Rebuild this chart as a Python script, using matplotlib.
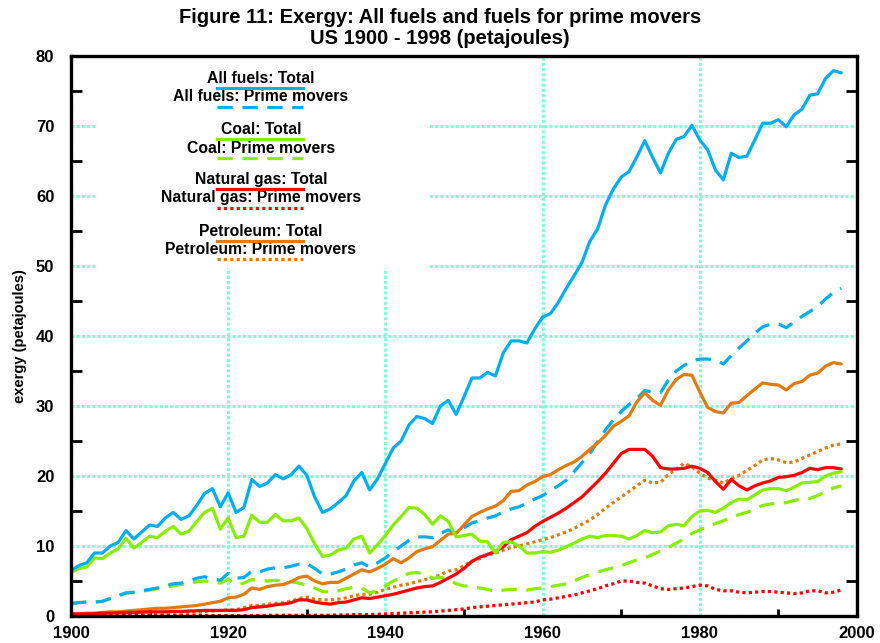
import matplotlib
matplotlib.use("Agg")
import matplotlib.pyplot as plt
import numpy as np
from matplotlib.lines import Line2D
from matplotlib.patches import Rectangle
from matplotlib.ticker import MultipleLocator

plt.rcParams['font.family'] = ['Liberation Sans', 'DejaVu Sans']

years = list(range(1900, 1999))

all_total = [6.5, 7.2, 7.6, 9.0, 9.0, 10.0, 10.5, 12.2, 11.0, 12.0,
             13.0, 12.8, 14.0, 14.8, 13.8, 14.3, 15.8, 17.5, 18.2, 15.6,
             17.6, 14.8, 15.5, 19.5, 18.5, 19.0, 20.2, 19.6, 20.2, 21.4,
             20.1, 17.0, 14.8, 15.3, 16.2, 17.2, 19.3, 20.5, 18.0, 19.6,
             21.8, 24.0, 25.0, 27.3, 28.5, 28.2, 27.5, 30.0, 30.8, 28.8,
             31.3, 34.0, 34.0, 34.8, 34.3, 37.6, 39.3, 39.3, 39.0, 41.0,
             42.7, 43.2, 44.8, 46.8, 48.6, 50.5, 53.5, 55.3, 58.7, 61.0,
             62.7, 63.5, 65.6, 67.9, 65.5, 63.3, 66.1, 68.1, 68.5, 70.1,
             68.0, 66.6, 63.7, 62.3, 66.1, 65.5, 65.7, 68.0, 70.4, 70.4,
             70.9, 69.9, 71.6, 72.4, 74.4, 74.6, 76.8, 77.9, 77.6]

all_pm = [1.8, 1.9, 2.0, 2.0, 2.1, 2.5, 2.9, 3.3, 3.4, 3.6,
          3.8, 4.0, 4.3, 4.6, 4.7, 5.0, 5.4, 5.6, 5.3, 5.1,
          6.1, 5.4, 5.5, 6.4, 6.3, 6.7, 6.9, 6.9, 7.1, 7.4,
          7.5, 6.8, 6.0, 6.0, 6.3, 6.7, 7.3, 7.6, 7.0, 7.6,
          8.3, 9.2, 10.0, 10.8, 11.3, 11.3, 11.2, 11.8, 12.3, 11.8,
          12.6, 13.3, 13.6, 14.0, 14.3, 14.9, 15.3, 15.6, 16.1, 16.7,
          17.2, 17.9, 18.6, 19.4, 20.6, 21.9, 23.2, 24.9, 26.6, 28.0,
          29.2, 30.2, 31.1, 32.2, 32.0, 31.9, 33.7, 35.0, 35.8, 36.5,
          36.7, 36.7, 36.6, 36.0, 37.2, 38.3, 39.3, 40.4, 41.3, 41.7,
          41.7, 41.2, 42.0, 42.8, 43.5, 44.2, 45.3, 46.2, 46.8]

coal_total = [6.2, 6.8, 7.0, 8.3, 8.2, 9.0, 9.6, 11.1, 9.7, 10.5,
              11.4, 11.2, 12.1, 12.8, 11.7, 12.1, 13.5, 14.8, 15.4, 12.4,
              14.0, 11.2, 11.4, 14.4, 13.4, 13.4, 14.5, 13.6, 13.6, 14.0,
              12.5, 10.3, 8.5, 8.7, 9.4, 9.7, 11.0, 11.4, 9.0, 10.2,
              11.5, 13.0, 14.2, 15.5, 15.4, 14.5, 13.1, 14.3, 13.5, 11.3,
              11.5, 11.7, 10.7, 10.6, 9.0, 10.5, 10.6, 10.0, 9.0, 9.0,
              9.2, 9.1, 9.4, 9.9, 10.4, 11.0, 11.4, 11.2, 11.5, 11.5,
              11.4, 11.0, 11.5, 12.2, 11.9, 12.0, 12.9, 13.1, 12.9, 14.2,
              15.0, 15.1, 14.8, 15.4, 16.2, 16.7, 16.6, 17.3, 18.0, 18.2,
              18.2, 17.9, 18.4, 19.0, 19.1, 19.2, 20.0, 20.4, 20.6]

coal_pm = [1.8, 1.9, 2.0, 2.0, 2.1, 2.5, 2.9, 3.3, 3.4, 3.5,
           3.7, 3.9, 4.1, 4.3, 4.5, 4.6, 4.9, 5.0, 4.9, 4.7,
           5.2, 4.5, 4.7, 5.2, 5.1, 5.0, 5.1, 5.0, 4.9, 4.7,
           4.4, 4.0, 3.5, 3.4, 3.6, 3.9, 4.1, 4.0, 3.3, 3.6,
           4.3, 5.0, 5.5, 6.1, 6.2, 6.0, 5.4, 5.5, 5.3, 4.6,
           4.3, 4.2, 4.0, 3.8, 3.5, 3.7, 3.8, 3.8, 3.7, 3.9,
           4.0, 4.2, 4.4, 4.6, 5.0, 5.5, 5.9, 6.3, 6.6, 6.9,
           7.2, 7.6, 8.0, 8.3, 8.8, 9.3, 9.8, 10.4, 11.0, 11.8,
           12.3, 12.8, 13.2, 13.6, 14.1, 14.5, 14.8, 15.3, 15.8, 16.0,
           16.1, 16.2, 16.5, 16.7, 16.8, 17.2, 17.8, 18.3, 18.6]

ng_total = [0.3, 0.3, 0.3, 0.35, 0.4, 0.4, 0.45, 0.5, 0.5, 0.55,
            0.6, 0.6, 0.6, 0.65, 0.65, 0.7, 0.75, 0.8, 0.8, 0.8,
            0.8, 0.8, 0.9, 1.2, 1.3, 1.4, 1.6, 1.7, 1.9, 2.3,
            2.3, 2.0, 1.8, 1.7, 1.9, 2.0, 2.3, 2.6, 2.5, 2.7,
            2.9, 3.1, 3.4, 3.7, 4.0, 4.2, 4.3, 4.8, 5.4, 6.0,
            6.8, 7.8, 8.4, 8.8, 9.2, 9.9, 10.9, 11.4, 11.9, 12.8,
            13.5, 14.1, 14.7, 15.4, 16.2, 17.0, 18.1, 19.2, 20.4, 21.8,
            23.2, 23.8, 23.8, 23.8, 22.8, 21.2, 21.0, 21.0, 21.1, 21.4,
            21.1, 20.5, 19.2, 18.1, 19.5, 18.6, 18.0, 18.6, 19.0, 19.3,
            19.8, 19.9, 20.1, 20.5, 21.1, 20.9, 21.2, 21.2, 21.0]

ng_pm = [0.05, 0.05, 0.05, 0.05, 0.05, 0.05, 0.05, 0.05, 0.05, 0.05,
         0.05, 0.05, 0.05, 0.05, 0.05, 0.05, 0.05, 0.05, 0.05, 0.05,
         0.05, 0.05, 0.05, 0.05, 0.05, 0.1, 0.1, 0.1, 0.1, 0.1,
         0.1, 0.1, 0.1, 0.1, 0.15, 0.15, 0.2, 0.2, 0.2, 0.25,
         0.3, 0.35, 0.4, 0.45, 0.5, 0.55, 0.6, 0.7, 0.8, 0.9,
         1.0, 1.2, 1.3, 1.4, 1.5, 1.6, 1.7, 1.8, 1.9, 2.0,
         2.3, 2.4, 2.6, 2.8, 3.0, 3.3, 3.6, 3.9, 4.3, 4.6,
         5.0, 5.0, 4.8, 4.7, 4.3, 3.9, 3.8, 3.9, 4.0, 4.2,
         4.4, 4.3, 3.8, 3.6, 3.6, 3.4, 3.3, 3.4, 3.5, 3.5,
         3.4, 3.3, 3.2, 3.3, 3.6, 3.6, 3.3, 3.4, 3.7]

pet_total = [0.3, 0.3, 0.4, 0.4, 0.5, 0.6, 0.6, 0.7, 0.8, 0.9,
             1.0, 1.1, 1.1, 1.2, 1.3, 1.4, 1.5, 1.7, 1.9, 2.1,
             2.6, 2.7, 3.1, 4.0, 3.8, 4.2, 4.4, 4.5, 4.9, 5.5,
             5.7, 5.0, 4.6, 4.8, 4.8, 5.4, 6.0, 6.6, 6.3, 6.8,
             7.4, 8.2, 7.6, 8.3, 9.2, 9.6, 9.9, 10.8, 11.7, 11.8,
             13.0, 14.2, 14.8, 15.3, 15.7, 16.5, 17.8, 17.9, 18.7, 19.2,
             19.9, 20.2, 20.9, 21.5, 22.0, 22.8, 23.8, 24.7, 25.8, 27.1,
             27.8, 28.6, 30.6, 31.9, 30.8, 30.1, 32.3, 33.8, 34.5, 34.4,
             32.0, 29.8, 29.2, 29.0, 30.4, 30.5, 31.5, 32.4, 33.3, 33.1,
             33.0, 32.3, 33.2, 33.5, 34.4, 34.7, 35.7, 36.2, 36.0]

pet_pm = [0.05, 0.05, 0.1, 0.1, 0.1, 0.15, 0.15, 0.2, 0.2, 0.25,
          0.3, 0.3, 0.35, 0.4, 0.4, 0.45, 0.5, 0.6, 0.7, 0.8,
          0.9, 0.9, 1.2, 1.5, 1.5, 1.7, 1.8, 1.9, 2.1, 2.5,
          2.7, 2.4, 2.3, 2.3, 2.4, 2.6, 2.9, 3.1, 3.1, 3.4,
          3.8, 4.1, 4.4, 4.6, 4.9, 5.2, 5.4, 5.9, 6.4, 6.6,
          7.2, 7.8, 8.2, 8.7, 9.0, 9.4, 9.8, 10.0, 10.3, 10.6,
          10.9, 11.2, 11.6, 12.0, 12.5, 13.1, 13.7, 14.5, 15.4, 16.2,
          17.0, 17.8, 18.6, 19.4, 19.0, 19.1, 20.2, 21.0, 21.8, 21.3,
          20.4, 19.7, 19.4, 19.0, 19.6, 20.1, 20.8, 21.5, 22.3, 22.5,
          22.3, 21.9, 22.0, 22.5, 23.0, 23.5, 24.0, 24.4, 24.6]

BLUE = '#00AEEF'
GREEN = '#88EE00'
RED = '#FF0000'
ORANGE = '#E07B10'
GRID = '#80FFD6'

labels = ["All fuels: Total", "All fuels: Prime movers",
          "Coal: Total", "Coal: Prime movers",
          "Natural gas: Total", "Natural gas: Prime movers",
          "Petroleum: Total", "Petroleum: Prime movers"]

LW = 2.3
DASH = (4.8, 3.0)
DOT = (1.0, 1.0)

series = [
    (all_total, BLUE, None, LW),
    (all_pm, BLUE, DASH, LW),
    (coal_total, GREEN, None, LW),
    (coal_pm, GREEN, DASH, LW),
    (ng_total, RED, None, LW),
    (ng_pm, RED, DOT, LW),
    (pet_total, ORANGE, None, LW),
    (pet_pm, ORANGE, DOT, LW),
]

fig = plt.figure(figsize=(8.8, 6.43), dpi=100)
ax = fig.add_axes([71/880, 1-616/643, 786/880, 560/643])

draw_order = [7, 5, 3, 1, 6, 4, 2, 0]
for i in draw_order:
    vals, col, dash, lw = series[i]
    ln, = ax.plot(years, vals, color=col, lw=lw, solid_capstyle='round', zorder=3)
    if dash is not None:
        ln.set_dashes(dash)

ax.set_xlim(1900, 2000)
ax.set_ylim(0, 80)
ax.xaxis.set_major_locator(MultipleLocator(20))
ax.xaxis.set_minor_locator(MultipleLocator(10))
ax.yaxis.set_major_locator(MultipleLocator(10))
ax.yaxis.set_minor_locator(MultipleLocator(5))
ax.grid(True, which='major', color=GRID, lw=2.2, linestyle=(0, (1, 0.7)), zorder=1)
ax.set_axisbelow(True)

ax.tick_params(which='major', length=0, labelsize=12)
ax.tick_params(axis='y', which='major', pad=12)
ax.tick_params(axis='x', which='major', pad=7)
ax.tick_params(which='minor', direction='in', length=8, width=2, right=True, left=True, bottom=True)
ax.tick_params(axis='x', which='minor', length=5)
for lab in ax.get_xticklabels() + ax.get_yticklabels():
    lab.set_fontweight('bold')

for sp in ax.spines.values():
    sp.set_linewidth(2.4)
    sp.set_zorder(5)

ax.set_ylabel("exergy (petajoules)", fontsize=10.5, fontweight='bold')
ax.yaxis.set_label_coords(-0.056, 0.5)

fig.text(0.5, 0.987, "Figure 11: Exergy: All fuels and fuels for prime movers\nUS 1900 - 1998 (petajoules)",
         ha='center', va='top', fontsize=14.5, fontweight='bold', linespacing=1.12)

# legend block
ax.add_patch(Rectangle((0.03, 0.622), 0.424, 0.378, transform=ax.transAxes,
                       facecolor='white', edgecolor='none', zorder=2))
text_y = [0.9607, 0.9273, 0.8679, 0.8352, 0.7786, 0.7470, 0.6863, 0.6536]
line_y = [0.9429, 0.9095, 0.8513, 0.8184, 0.7620, 0.7280, 0.6696, 0.6370]
for i, lab in enumerate(labels):
    _, col, dash, lw = series[i]
    ax.text(0.2417, text_y[i], lab, transform=ax.transAxes, ha='center', va='center',
            fontsize=11.3, fontweight='bold', zorder=6)
    l = Line2D([0.1857, 0.2952], [line_y[i], line_y[i]], transform=ax.transAxes,
               color=col, lw=lw, zorder=7)
    if dash is not None:
        l.set_dashes(dash)
    ax.add_line(l)

fig.savefig("out.png", dpi=100)
